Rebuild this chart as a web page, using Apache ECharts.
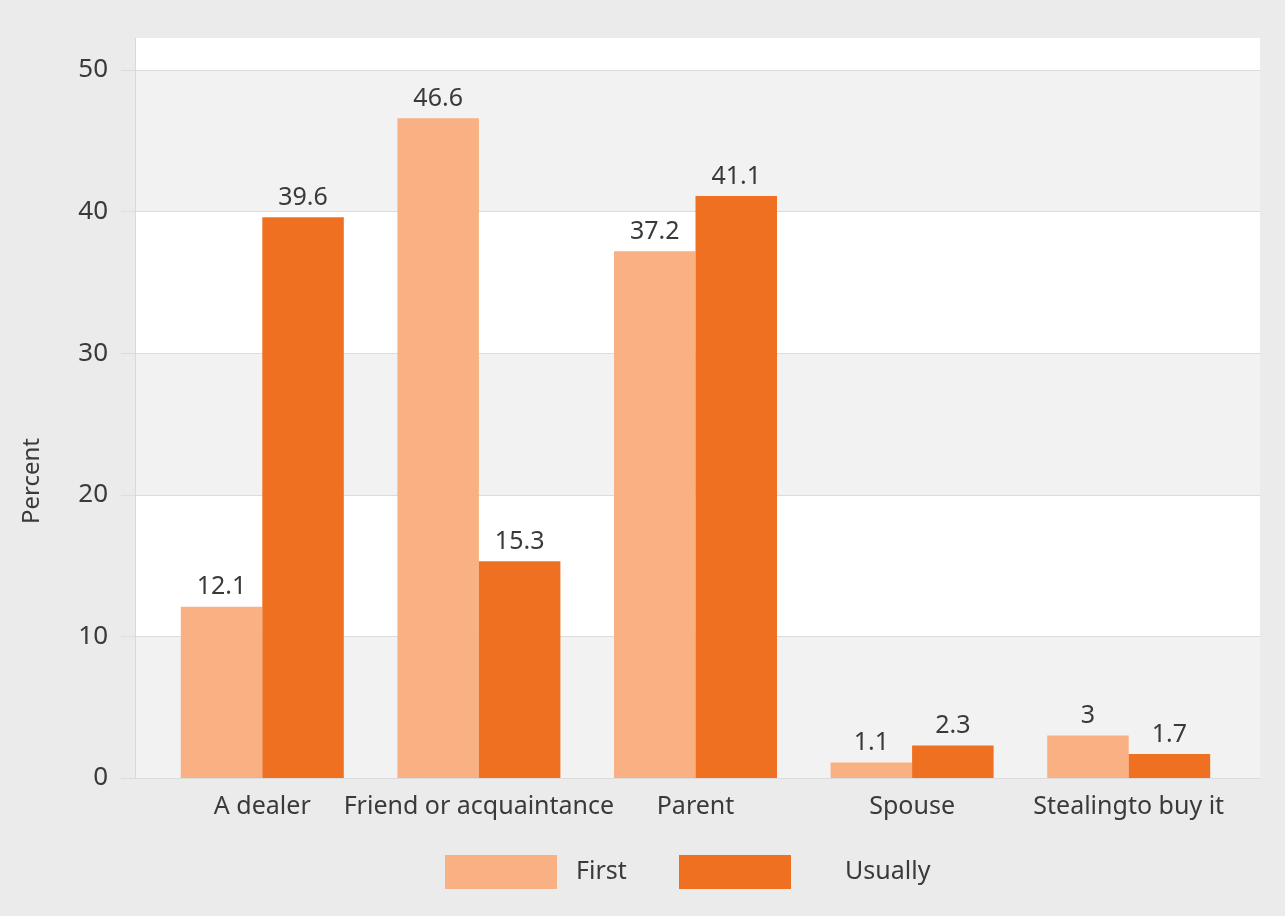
<!DOCTYPE html>
<html>
<head>
<meta charset="utf-8">
<script src="https://cdn.jsdelivr.net/npm/echarts@6/dist/echarts.min.js"></script>
<style>
html,body{margin:0;padding:0;background:#ebebeb;}
#chart{width:1285px;height:916px;}
</style>
</head>
<body>
<div id="chart"></div>
<script>
const categories = ['A dealer', 'Friend or acquaintance', 'Parent', 'Spouse', 'Stealingto buy it'];
const firstValues = [12.1, 46.6, 37.2, 1.1, 3];
const usuallyValues = [39.6, 15.3, 41.1, 2.3, 1.7];
const seriesNames = ['First', 'Usually'];
const yTicks = [0, 10, 20, 30, 40, 50];

const FONT = 'Noto Sans';
const TXT = '#3a3a3a';
const C_FIRST = '#f9b183';
const C_USUAL = '#f07022';

const chart = echarts.init(document.getElementById('chart'));
chart.setOption({
  backgroundColor: '#ebebeb',
  animation: false,
  textStyle: { fontFamily: FONT },
  grid: [
    { left: 135, right: 25, top: 38, bottom: 138 },
    { left: 154, right: 48, top: 70, bottom: 138 }
  ],
  xAxis: [
    { gridIndex: 0, type: 'category', data: categories, show: false },
    {
      gridIndex: 1, type: 'category', data: categories,
      axisLine: { show: false }, axisTick: { show: false },
      axisLabel: { color: TXT, fontSize: 25, fontFamily: FONT, margin: 16, interval: 0 }
    }
  ],
  yAxis: [
    {
      gridIndex: 0, type: 'value', min: yTicks[0], max: 52.26, interval: 10,
      axisLine: { show: true, lineStyle: { color: '#d9d9d9', width: 1 } },
      axisTick: { show: true, length: 14, lineStyle: { color: '#dcdcdc' } },
      axisLabel: { show: true, color: TXT, fontSize: 26, fontFamily: FONT, margin: 27, showMaxLabel: false },
      splitLine: { show: true, lineStyle: { color: ['#dcdcdc','#dcdcdc','#dcdcdc','#dcdcdc','#dcdcdc','#dcdcdc','rgba(0,0,0,0)'], width: 1 } },
      splitArea: { show: true, areaStyle: { color: ['#f2f2f2', '#ffffff'] } }
    },
    { gridIndex: 1, type: 'value', min: yTicks[0], max: yTicks[yTicks.length - 1], show: false }
  ],
  legend: [
    {
      data: [seriesNames[0]], left: 445, top: 855, padding: 0,
      icon: 'rect', itemWidth: 112, itemHeight: 34,
      textStyle: { color: TXT, fontSize: 25, fontFamily: FONT, padding: [0, 0, 0, 14] }
    },
    {
      data: [seriesNames[1]], left: 679, top: 855, padding: 0,
      icon: 'rect', itemWidth: 112, itemHeight: 34,
      textStyle: { color: TXT, fontSize: 25, fontFamily: FONT, padding: [0, 0, 0, 49] }
    }
  ],
  graphic: [
    {
      type: 'text', left: 20, top: 438, rotation: Math.PI / 2,
      style: { text: 'Percent', fill: TXT, font: '24px "Noto Sans"' }
    }
  ],
  series: [
    {
      name: seriesNames[0], type: 'bar', xAxisIndex: 1, yAxisIndex: 1,
      data: firstValues, barWidth: 81.5, barGap: '0%',
      itemStyle: { color: C_FIRST },
      label: { show: true, position: 'top', distance: 7, color: TXT, fontSize: 25, fontFamily: FONT }
    },
    {
      name: seriesNames[1], type: 'bar', xAxisIndex: 1, yAxisIndex: 1,
      data: usuallyValues, barWidth: 81.5, barGap: '0%',
      itemStyle: { color: C_USUAL },
      label: { show: true, position: 'top', distance: 7, color: TXT, fontSize: 25, fontFamily: FONT }
    }
  ]
});
</script>
</body>
</html>
